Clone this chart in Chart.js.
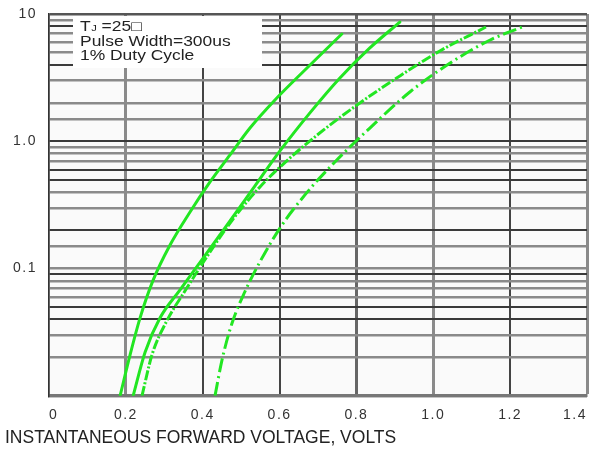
<!DOCTYPE html>
<html>
<head>
<meta charset="utf-8">
<style>
  html, body { margin: 0; padding: 0; background: #ffffff; }
  #wrap { width: 591px; height: 451px; }
</style>
<script src="https://cdn.jsdelivr.net/npm/chart.js@4.4.1/dist/chart.umd.min.js"></script>
</head>
<body>
<div id="wrap"><canvas id="c" width="591" height="451"></canvas></div>
<script>
// Instantaneous forward current (A) against forward voltage (V), four rectifier types
const curveA_V = [0.185, 0.211, 0.237, 0.271, 0.315, 0.367, 0.419, 0.471, 0.523, 0.588, 0.666, 0.762];
const curveA_I = [0.010, 0.021, 0.041, 0.081, 0.153, 0.278, 0.479, 0.781, 1.27, 2.11, 3.63, 6.96];

const curveB_V = [0.219, 0.250, 0.289, 0.341, 0.403, 0.471, 0.536, 0.601, 0.679, 0.757, 0.835, 0.913];
const curveB_I = [0.010, 0.022, 0.041, 0.068, 0.123, 0.237, 0.446, 0.839, 1.67, 3.14, 5.41, 8.65];

const curveC_V = [0.242, 0.268, 0.305, 0.357, 0.414, 0.479, 0.549, 0.627, 0.718, 0.809, 0.913, 1.017, 1.137];
const curveC_I = [0.010, 0.021, 0.038, 0.069, 0.128, 0.245, 0.438, 0.739, 1.25, 2.00, 3.26, 5.12, 7.9];

const curveD_V = [0.432, 0.450, 0.476, 0.510, 0.549, 0.601, 0.666, 0.744, 0.835, 0.939, 1.044, 1.148, 1.231];
const curveD_I = [0.010, 0.019, 0.037, 0.066, 0.113, 0.208, 0.379, 0.688, 1.27, 2.44, 4.12, 6.25, 7.9];

// Axis ticks
const xTickValues = [0, 0.2, 0.4, 0.6, 0.8, 1.0, 1.2, 1.4];
const xTickLabels = ['0', '0.2', '0.4', '0.6', '0.8', '1.0', '1.2', '1.4'];
const yTickValues = [10, 1, 0.1];
const yTickLabels = ['10', '1.0', '0.1'];

const xAxisTitle = 'INSTANTANEOUS FORWARD VOLTAGE, VOLTS';
const noteTemp = ['T', 'J', ' =25\u25A1'];
const notePulse = 'Pulse Width=300us';
const noteDuty = '1% Duty Cycle';

// ---- styling ----
const FONT = '"Liberation Sans", Arial, Helvetica, sans-serif';
const GREEN = '#22e622';
const DARK = '#3a3a3a';
const GREY = '#8a8a8a';
const xGridColors = ['#333333', GREY, '#444444', '#444444', '#666666', GREY, '#444444', GREY];
const xGridWidths = [1.5, 3, 2, 2, 3, 3, 2, 3];
const darkRows = [8, 4, 1, 0.6, 0.5, 0.2, 0.09, 0.05, 0.04];

const near = (a, b) => Math.abs(a - b) <= Math.abs(b) * 1e-6;
const pts = (xs, ys) => xs.map((x, i) => ({ x: x, y: ys[i] }));

function rowColor(ctx) {
  const v = ctx.tick ? ctx.tick.value : 0;
  if (near(v, 10)) return '#555555';
  return darkRows.some(d => near(v, d)) ? DARK : GREY;
}
function rowWidth(ctx) {
  const v = ctx.tick ? ctx.tick.value : 0;
  return darkRows.some(d => near(v, d)) ? 2 : 2.5;
}

function curve(xs, ys, dash) {
  return {
    data: pts(xs, ys),
    borderColor: GREEN,
    borderWidth: 3,
    borderDash: dash,
    borderCapStyle: dash.length ? 'butt' : 'round',
    borderJoinStyle: 'round',
    pointRadius: 0,
    fill: false,
    cubicInterpolationMode: 'monotone'
  };
}

// Plot background, tick letter spacing and the test-condition note box
const notePlugin = {
  id: 'noteBox',
  beforeDraw(chart) {
    const ctx = chart.ctx, a = chart.chartArea;
    ctx.letterSpacing = '0px';
    ctx.save();
    ctx.fillStyle = '#fafafa';
    ctx.fillRect(a.left, a.top, a.right - a.left, a.bottom - a.top);
    ctx.restore();
  },
  afterDatasetsDraw(chart) {
    chart.ctx.letterSpacing = '1.5px';
  },
  afterDraw(chart) {
    const ctx = chart.ctx, a = chart.chartArea;
    ctx.letterSpacing = '0px';
    ctx.save();
    ctx.fillStyle = '#ffffff';
    ctx.fillRect(a.left + 24, a.top + 2, 189, 52);
    ctx.fillStyle = '#222222';
    ctx.textBaseline = 'alphabetic';
    ctx.textAlign = 'left';
    const sx = 1.245;
    const put = (txt, x, y, size) => {
      ctx.save();
      ctx.translate(x, y);
      ctx.scale(sx, 1);
      ctx.font = size + 'px ' + FONT;
      ctx.fillText(txt, 0, 0);
      const w = ctx.measureText(txt).width * sx;
      ctx.restore();
      return w;
    };
    const x0 = a.left + 31;
    let x = x0;
    x += put(noteTemp[0], x, a.top + 17, 14);
    x += put(noteTemp[1], x + 0.5, a.top + 17, 9) + 0.5;
    put(noteTemp[2], x, a.top + 17, 14);
    put(notePulse, x0, a.top + 31.5, 14);
    put(noteDuty, x0, a.top + 45.5, 14);
    ctx.restore();
  }
};

new Chart(document.getElementById('c'), {
  type: 'line',
  data: {
    datasets: [
      curve(curveA_V, curveA_I, []),
      curve(curveB_V, curveB_I, []),
      curve(curveC_V, curveC_I, [10, 2, 2, 2]),
      curve(curveD_V, curveD_I, [14, 4, 2, 4])
    ]
  },
  options: {
    responsive: false,
    animation: false,
    events: [],
    layout: { padding: { top: 14, right: 4, left: 5, bottom: 0 } },
    plugins: {
      legend: { display: false },
      tooltip: { enabled: false },
      title: {
        display: true,
        text: xAxisTitle,
        position: 'bottom',
        align: 'start',
        color: '#222222',
        font: { family: FONT, size: 17.5, weight: 'normal' },
        padding: { top: 0, bottom: 2 }
      }
    },
    scales: {
      x: {
        type: 'linear',
        min: 0,
        max: 1.4,
        afterBuildTicks: s => { s.ticks = xTickValues.map(v => ({ value: v })); },
        afterFit: s => { s.height = 32.2; s.paddingLeft = 0; s.paddingRight = 0; },
        grid: {
          drawTicks: false,
          color: ctx => xGridColors[ctx.index] || GREY,
          lineWidth: ctx => xGridWidths[ctx.index] || 2
        },
        border: { display: true, color: '#777777', width: 3 },
        ticks: {
          z: 1,
          align: 'inner',
          padding: 11,
          maxRotation: 0,
          autoSkip: false,
          color: '#333333',
          font: { family: FONT, size: 14 },
          callback: (v, i) => xTickLabels[i]
        }
      },
      y: {
        type: 'logarithmic',
        min: 0.01,
        max: 10,
        afterFit: s => { s.width = 44; s.paddingTop = 0; s.paddingBottom = 0; },
        grid: { drawTicks: false, color: rowColor, lineWidth: rowWidth },
        border: { display: true, color: '#333333', width: 1.5 },
        ticks: {
          z: 1,
          padding: 12,
          autoSkip: false,
          color: '#333333',
          font: { family: FONT, size: 14 },
          callback: v => {
            const i = yTickValues.findIndex(t => near(v, t));
            return i >= 0 ? yTickLabels[i] : '';
          }
        }
      }
    }
  },
  plugins: [notePlugin]
});
</script>
</body>
</html>
